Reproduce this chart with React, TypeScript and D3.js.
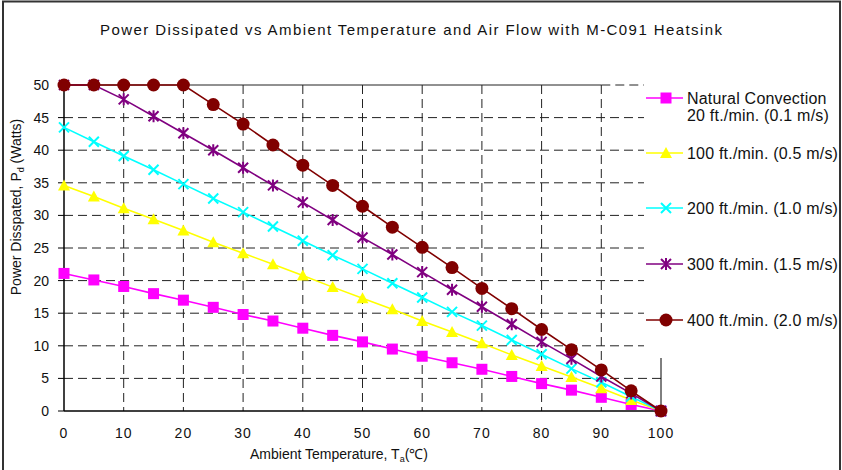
import React from "react";
import * as d3 from "d3";

const temps = [0, 5, 10, 15, 20, 25, 30, 35, 40, 45, 50, 55, 60, 65, 70, 75, 80, 85, 90, 95, 100];
const natural = [21.1, 20.1, 19.1, 18.0, 17.0, 15.9, 14.8, 13.8, 12.7, 11.6, 10.6, 9.5, 8.4, 7.4, 6.4, 5.3, 4.2, 3.2, 2.1, 1.0, 0];
const flow100 = [34.6, 32.9, 31.1, 29.4, 27.7, 25.9, 24.2, 22.5, 20.8, 19.0, 17.3, 15.6, 13.8, 12.1, 10.4, 8.6, 6.9, 5.2, 3.5, 1.7, 0];
const flow200 = [43.5, 41.3, 39.1, 37.0, 34.8, 32.6, 30.5, 28.3, 26.1, 23.9, 21.8, 19.6, 17.4, 15.2, 13.1, 10.9, 8.7, 6.5, 4.4, 2.2, 0];
const flow300 = [50, 50, 47.8, 45.2, 42.6, 40.0, 37.3, 34.6, 32.0, 29.3, 26.6, 24.0, 21.3, 18.6, 16.0, 13.3, 10.6, 8.0, 5.3, 2.7, 0];
const flow400 = [50, 50, 50, 50, 50, 47.0, 44.0, 40.8, 37.7, 34.6, 31.4, 28.2, 25.1, 22.0, 18.8, 15.7, 12.5, 9.4, 6.3, 3.1, 0];

const seriesNames = [
  ["Natural Convection", "20 ft./min. (0.1 m/s)"],
  ["100 ft./min. (0.5 m/s)"],
  ["200 ft./min. (1.0 m/s)"],
  ["300 ft./min. (1.5 m/s)"],
  ["400 ft./min. (2.0 m/s)"],
];
const seriesValues = [natural, flow100, flow200, flow300, flow400];
const seriesColors = ["#FF00FF", "#FFFF00", "#00FFFF", "#800080", "#800000"];
const seriesMarkers = ["square", "triangle", "cross", "star", "circle"];

const yTicks = [0, 5, 10, 15, 20, 25, 30, 35, 40, 45, 50];
const xTicks = [0, 10, 20, 30, 40, 50, 60, 70, 80, 90, 100];

const W = 842;
const H = 470;
const FONT = "'Liberation Sans', Arial, sans-serif";

function Marker({ kind, cx, cy, color }: { kind: string; cx: number; cy: number; color: string }) {
  if (kind === "square") {
    return <rect x={cx - 5.5} y={cy - 5.5} width={11} height={11} fill={color} />;
  }
  if (kind === "triangle") {
    return <path d={`M${cx},${cy - 6}L${cx + 6},${cy + 5}L${cx - 6},${cy + 5}Z`} fill={color} />;
  }
  if (kind === "cross") {
    return (
      <path
        d={`M${cx - 5},${cy - 5}L${cx + 5},${cy + 5}M${cx + 5},${cy - 5}L${cx - 5},${cy + 5}`}
        stroke={color}
        strokeWidth={2}
      />
    );
  }
  if (kind === "star") {
    return (
      <path
        d={`M${cx - 5},${cy - 5}L${cx + 5},${cy + 5}M${cx + 5},${cy - 5}L${cx - 5},${cy + 5}M${cx},${cy - 6}L${cx},${cy + 6}`}
        stroke={color}
        strokeWidth={2}
      />
    );
  }
  return <circle cx={cx} cy={cy} r={6.5} fill={color} />;
}

export default function App() {
  const x = d3.scaleLinear().domain([0, 100]).range([64, 661]);
  const y = d3.scaleLinear().domain([0, 50]).range([411, 85]);
  const line = d3
    .line<[number, number]>()
    .x((d) => x(d[0]))
    .y((d) => y(d[1]));

  const legendX = 644;
  const legendRows = [98, 153, 208, 264, 320];

  return (
    <svg
      width={W}
      height={H}
      style={{ position: "absolute", left: 0, top: 0, background: "#fff" }}
      fontFamily={FONT}
    >
      <rect x={0} y={0} width={W} height={H} fill="#fff" />
      {/* grid */}
      {yTicks
        .filter((t) => t > 0 && t < 50)
        .map((t) => (
          <line key={"h" + t} x1={x(0)} x2={x(100)} y1={y(t)} y2={y(t)} stroke="#222" strokeDasharray="9,5" strokeWidth={1} />
        ))}
      {xTicks
        .filter((t) => t > 0 && t < 100)
        .map((t) => (
          <line key={"v" + t} x1={x(t)} x2={x(t)} y1={y(50)} y2={y(0)} stroke="#222" strokeDasharray="9,5" strokeWidth={1} />
        ))}
      <line x1={x(0)} x2={x(90)} y1={y(50)} y2={y(50)} stroke="#222" strokeWidth={1} />
      <line x1={x(90)} x2={x(100)} y1={y(50)} y2={y(50)} stroke="#222" strokeDasharray="9,5" strokeWidth={1} />
      <line x1={x(100)} x2={x(100)} y1={y(50)} y2={y(0)} stroke="#000" strokeWidth={1} />
      {/* axes */}
      <line x1={x(0)} x2={x(0)} y1={y(50)} y2={y(0)} stroke="#000" strokeWidth={1.5} />
      <line x1={x(0)} x2={x(100)} y1={y(0)} y2={y(0)} stroke="#000" strokeWidth={1.5} />
      {yTicks.map((t) => (
        <g key={"yt" + t}>
          <line x1={x(0) - 6} x2={x(0)} y1={y(t)} y2={y(t)} stroke="#000" strokeWidth={1} />
          <text x={x(0) - 15} y={y(t)} dy="0.35em" textAnchor="end" fontSize={14} fill="#111">
            {t}
          </text>
        </g>
      ))}
      {xTicks.map((t) => (
        <text key={"xt" + t} x={x(t)} y={438} textAnchor="middle" fontSize={14} fill="#111" letterSpacing={1}>
          {t}
        </text>
      ))}
      {/* series */}
      {seriesValues.map((vals, i) => {
        const pts = temps.map((t, j) => [t, vals[j]] as [number, number]);
        return (
          <g key={"s" + i}>
            <path d={line(pts) || ""} fill="none" stroke={seriesColors[i]} strokeWidth={1.6} />
            {pts.map((p, j) => (
              <Marker key={j} kind={seriesMarkers[i]} cx={x(p[0])} cy={y(p[1])} color={seriesColors[i]} />
            ))}
          </g>
        );
      })}
      {/* legend */}
      <rect x={legendX} y={78} width={W - legendX} height={280} fill="#fff" />
      {seriesNames.map((names, i) => {
        const ry = legendRows[i];
        return (
          <g key={"l" + i}>
            <line x1={646} x2={683} y1={ry} y2={ry} stroke={seriesColors[i]} strokeWidth={1.6} />
            <Marker kind={seriesMarkers[i]} cx={666} cy={ry} color={seriesColors[i]} />
            {names.map((n, k) => (
              <text key={k} x={687} y={ry + k * 17} dy="0.35em" fontSize={16} letterSpacing={0.2} fill="#111">
                {n}
              </text>
            ))}
          </g>
        );
      })}
      {/* titles */}
      <text x={100} y={35} fontSize={15} fill="#111" textLength={622} lengthAdjust="spacing">
        Power Dissipated vs Ambient Temperature and Air Flow with M-C091 Heatsink
      </text>
      <text x={250} y={459} fontSize={14} fill="#111">
        Ambient Temperature, T<tspan fontSize={9} dy={3}>a</tspan>
        <tspan dy={-3}>(℃)</tspan>
      </text>
      <text transform={`translate(21,207) rotate(-90)`} textAnchor="middle" fontSize={14} fill="#111">
        Power Disspated, P<tspan fontSize={9} dy={3}>d</tspan>
        <tspan dy={-3}> (Watts)</tspan>
      </text>
      {/* frame */}
      <path d={`M3,${H}L3,1.5L840,1.5L840,${H}`} fill="none" stroke="#333" strokeWidth={2} />
    </svg>
  );
}
